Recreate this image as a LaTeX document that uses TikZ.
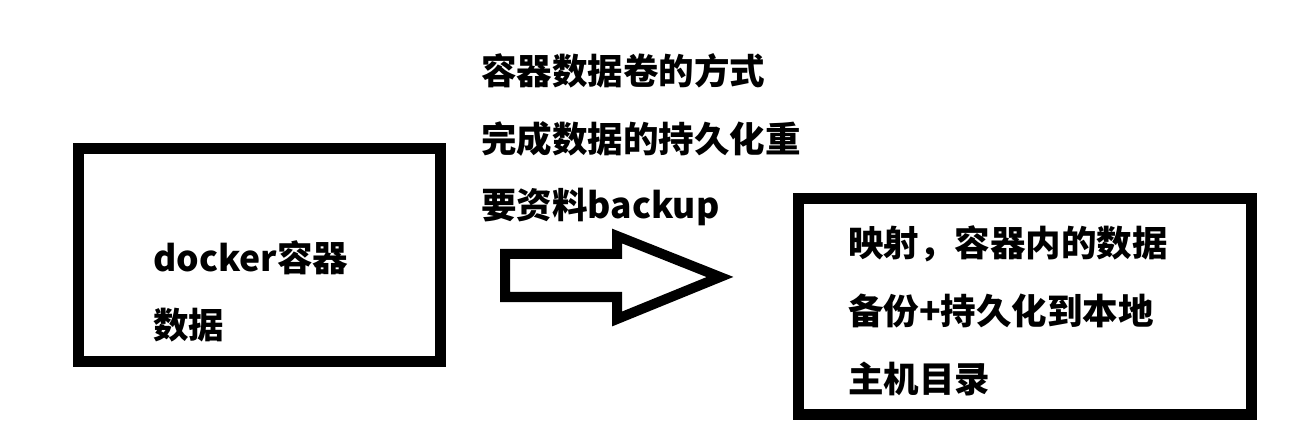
\documentclass[tikz,border=0pt]{standalone}
\usepackage{fontspec}
\newfontfamily\cjk{Noto Sans CJK SC}
\begin{document}
\begin{tikzpicture}[x=1bp,y=-1bp,
  box/.style={draw=black,line width=11bp,fill=white,inner sep=0pt},
  lbl/.style={anchor=base west,inner sep=0pt,font=\cjk\bfseries\fontsize{35.5bp}{40bp}\selectfont},
  blockarrow/.style={draw=black,line width=10bp,line join=miter,fill=white}]
\useasboundingbox[fill=white] (0,0) rectangle (1302,448);
% boxes
\node[box,minimum width=361bp,minimum height=212bp] (left) at (259.5,255) {};
\node[box,minimum width=453bp,minimum height=215bp] (right) at (1024.5,306.5) {};
% left box text
\node[lbl] (l1) at (153,271.5) {docker容器};
\node[lbl] (l2) at (153,338.5) {数据};
% top text
\node[lbl] (t1) at (481,84.5) {容器数据卷的方式};
\node[lbl] (t2) at (481,152.5) {完成数据的持久化重};
\node[lbl] (t3) at (481,218.5) {要资料backup};
% right box text
\node[lbl] (r1) at (848,256.5) {映射，容器内的数据};
\node[lbl] (r2) at (848,324.5) {备份+持久化到本地};
\node[lbl] (r3) at (848,392.5) {主机目录};
% block arrow
\draw[blockarrow] (505,254) -- (617,254) -- (617,236) -- (720,277) -- (617,319) -- (617,297) -- (505,297) -- cycle;
\end{tikzpicture}
\end{document}
